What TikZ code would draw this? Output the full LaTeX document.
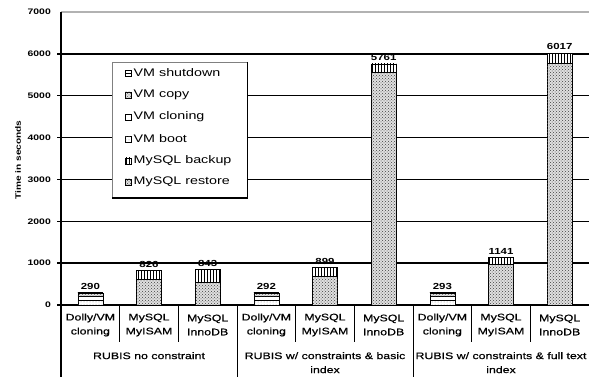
\documentclass[tikz,border=0pt]{standalone}
\usepackage{fontspec}
\setmainfont{Liberation Sans}[FakeStretch=1.3]
\newfontfamily\catfont{Liberation Sans}[FakeStretch=1.3,FakeBold=0.6]
\usetikzlibrary{patterns}
\newcommand\vy[1]{(72+(#1)*0.041857)}
\tikzset{
  grid line/.style={line width=1.3pt,black},
  sep line/.style={line width=0.9pt,black},
  bar outline/.style={draw=black,line width=0.5pt},
  restore/.style={bar outline,fill=gray!25,postaction={pattern=crosshatch dots,pattern color=black!75}},
  backup/.style={bar outline,fill=white,postaction={pattern=vertical lines,pattern color=black}},
  boot/.style={bar outline,fill=white,postaction={pattern=dots,pattern color=black!40}},
  cloning/.style={bar outline,fill=white},
  copy/.style={bar outline,fill=gray!25,postaction={pattern=crosshatch dots,pattern color=black!60}},
  shutdown/.style={bar outline,fill=white,postaction={pattern=horizontal lines,pattern color=black}},
  ticklab/.style={font=\bfseries\fontsize{8}{9}\selectfont,anchor=east,inner sep=0pt},
  vallab/.style={font=\bfseries\fontsize{8.8}{10}\selectfont,anchor=south,inner sep=0pt},
  catlab/.style={font=\catfont\fontsize{9.5}{14}\selectfont,align=center,inner sep=0pt},
  leglab/.style={font=\fontsize{11}{12}\selectfont,anchor=west,inner sep=0pt},
  legsym/.style={minimum width=6pt,minimum height=6pt,inner sep=0pt,line width=0.4pt},
}
\newcommand\seg[4]{\path[#4] ({#1-12.5},{\vy{#2}}) rectangle ({#1+12.5},{\vy{#3}});}
\begin{document}
\begin{tikzpicture}[x=1pt,y=1pt]
\useasboundingbox (0,0) rectangle (589,377);
% grid
\draw[line width=1.3pt,gray!60] (61,365) -- (589,365);
\foreach \v in {1000,2000,...,6000}{
  \draw[grid line] (57,{\vy{\v}}) -- (589,{\vy{\v}});
}
\draw[grid line] (57,72) -- (589,72);
\draw[grid line] (61,0) -- (61,365);
\foreach \v/\n in {0/t0,1000/t1,2000/t2,3000/t3,4000/t4,5000/t5,6000/t6,7000/t7}{
  \node[ticklab] (\n) at (51,{\vy{\v}}) {\v};
}
\node[rotate=90,font=\bfseries\fontsize{7.8}{9}\selectfont] (ylab) at (18,217) {Time in seconds};
% separators
\foreach \k in {1,2,4,5,7,8}{
  \draw[sep line] ({61+58.667*\k},72) -- ({61+58.667*\k},35);
}
\foreach \k in {3,6}{
  \draw[sep line] ({61+58.667*\k},72) -- ({61+58.667*\k},0);
}
% bars: Dolly
\foreach \c/\t/\n in {90.33/290/va,266.33/292/vd,442.33/293/vg}{
  \pgfmathsetmacro\s{\t-15}
  \seg{\c}{0}{120}{boot}
  \seg{\c}{120}{200}{cloning}
  \seg{\c}{200}{\s}{copy}
  \seg{\c}{\s}{\t}{shutdown}
  \node[vallab] (\n) at (\c,{\vy{\t}+3}) {\t};
}
% MySQL bars
\foreach \c/\r/\t/\n in {149.0/626/826/vb,207.67/548/843/vc,325.0/690/899/ve,383.67/5561/5761/vf,501.0/970/1141/vh,559.67/5767/6017/vi}{
  \seg{\c}{0}{\r}{restore}
  \seg{\c}{\r}{\t}{backup}
  \node[vallab] (\n) at (\c,{\vy{\t}+3}) {\t};
}
% category labels
\foreach \c/\a/\b/\n in {90.33/Dolly\slash VM/cloning/ca,149.0/MySQL/MyISAM/cb,207.67/MySQL/InnoDB/cc,266.33/Dolly\slash VM/cloning/cd,325.0/MySQL/MyISAM/ce,383.67/MySQL/InnoDB/cf,442.33/Dolly\slash VM/cloning/cg,501.0/MySQL/MyISAM/ch,559.67/MySQL/InnoDB/ci}{
  \node[catlab] (\n) at (\c,52) {\a\\\b};
}
\node[catlab,anchor=north] (ga) at (149.0,25) {RUBIS no constraint};
\node[catlab,anchor=north] (gb) at (325.0,25) {RUBIS w/ constraints \& basic\\index};
\node[catlab,anchor=north] (gc) at (501.0,25) {RUBIS w/ constraints \& full text\\index};
% legend
\fill[white] (112,179) rectangle (247,315);
\draw[gray,line width=0.5pt] (112,179) -- (112,315) -- (247,315);
\draw[black,line width=0.6pt] (247,315) -- (247,179);
\draw[black,line width=1.6pt] (112,179) -- (247.8,179);
\foreach \y/\s/\l/\n in {304/shutdown/VM shutdown/la,282/copy/VM copy/lb,260/cloning/VM cloning/lc,238/boot/VM boot/ld,216/backup/MySQL backup/le,195/restore/MySQL restore/lf}{
  \node[legsym,\s] (\n s) at (128,\y) {};
  \node[leglab] (\n) at (133.5,\y) {\l};
}
\end{tikzpicture}
\end{document}
